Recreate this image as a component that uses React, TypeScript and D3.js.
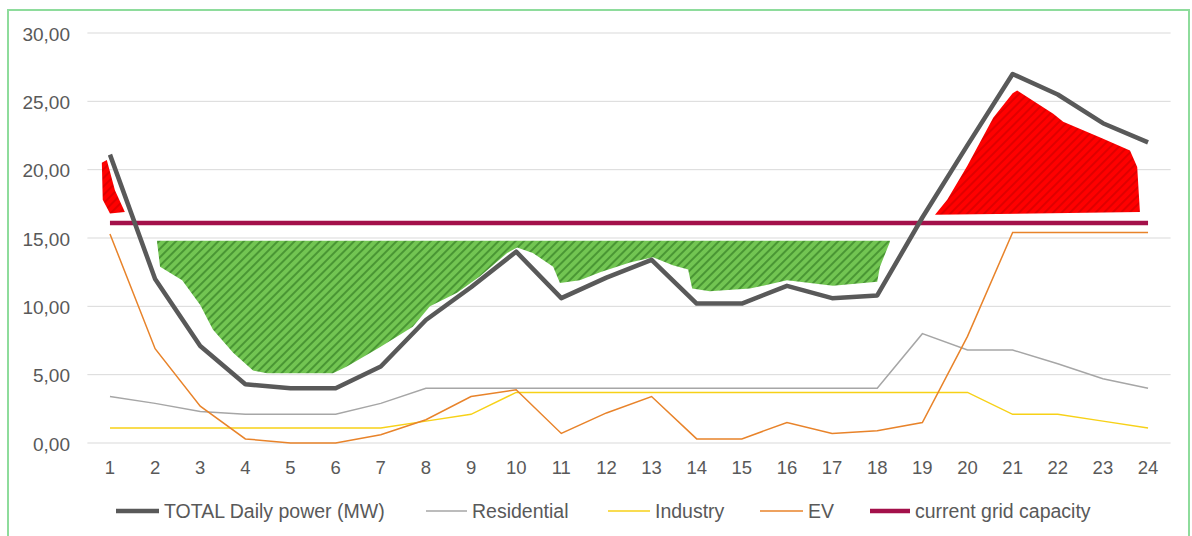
import React from 'react';
import { scaleLinear, line, range } from 'd3';

// hours of the day
const hours = range(1, 25);

// series values (MW)
const total = [21.1, 12.0, 7.1, 4.3, 4.0, 4.0, 5.6, 9.0, 11.4, 14.0, 10.6, 12.1, 13.4, 10.2, 10.2, 11.5, 10.6, 10.8, 16.5, 21.8, 27.0, 25.5, 23.4, 22.0];
const residential = [3.4, 2.9, 2.3, 2.1, 2.1, 2.1, 2.9, 4.0, 4.0, 4.0, 4.0, 4.0, 4.0, 4.0, 4.0, 4.0, 4.0, 4.0, 8.0, 6.8, 6.8, 5.8, 4.7, 4.0];
const industry = [1.1, 1.1, 1.1, 1.1, 1.1, 1.1, 1.1, 1.6, 2.1, 3.7, 3.7, 3.7, 3.7, 3.7, 3.7, 3.7, 3.7, 3.7, 3.7, 3.7, 2.1, 2.1, 1.6, 1.1];
const ev = [15.3, 6.9, 2.7, 0.3, 0.0, 0.0, 0.6, 1.7, 3.4, 3.9, 0.7, 2.2, 3.4, 0.3, 0.3, 1.5, 0.7, 0.9, 1.5, 7.8, 15.4, 15.4, 15.4, 15.4];
const gridCapacity = 16.1;

const yTicks = [0, 5, 10, 15, 20, 25, 30];

// hand drawn hatched zones: [hour, MW]
const spareZone: [number, number][] = [
  [2.04, 14.8], [2.11, 12.9], [2.6, 11.9], [3.0, 10.1], [3.28, 8.3], [3.73, 6.6], [4.17, 5.3], [4.48, 5.1],
  [5.94, 5.1], [6.25, 5.6], [6.98, 7.0], [7.71, 8.5], [8.09, 10.0], [8.69, 11.0], [9.2, 12.2], [9.8, 13.9],
  [10.02, 14.3], [10.37, 13.9], [10.82, 12.9], [10.97, 11.7], [11.41, 11.9], [11.86, 12.5], [12.52, 13.2],
  [13.03, 13.6], [13.47, 13.0], [13.81, 12.7], [13.9, 11.3], [14.29, 11.1], [15.18, 11.3], [16.0, 11.9],
  [17.02, 11.5], [18.0, 11.8], [18.06, 12.9], [18.28, 14.7], [18.28, 14.8]
];
const overloadMorning: [number, number][] = [
  [0.82, 20.5], [0.93, 20.7], [1.11, 18.5], [1.33, 16.9], [1.0, 16.8], [0.84, 17.8]
];
const overloadEvening: [number, number][] = [
  [19.28, 16.7], [23.82, 16.9], [23.76, 20.2], [23.6, 21.4], [22.98, 22.3], [22.12, 23.5], [21.9, 24.1],
  [21.1, 25.8], [21.0, 25.6], [20.57, 23.8], [20.0, 20.3], [19.55, 17.8]
];

const legendItems = [
  { label: 'TOTAL Daily power (MW)', color: '#595959', width: 4.5 },
  { label: 'Residential', color: '#a6a6a6', width: 1.5 },
  { label: 'Industry', color: '#f7d117', width: 1.5 },
  { label: 'EV', color: '#e8832a', width: 1.5 },
  { label: 'current grid capacity', color: '#a3104a', width: 4.5 },
];

const W = 1192;
const H = 536;
const FONT = '"Liberation Sans", Arial, sans-serif';

export default function App() {
  const x = scaleLinear().domain([0.5, 24.5]).range([87.4, 1170.6]);
  const y = scaleLinear().domain([0, 30]).range([443, 33]);

  const seriesLine = line<number>()
    .x((d, i) => x(hours[i]))
    .y(d => y(d));

  const zonePath = (pts: [number, number][]) =>
    line<[number, number]>()
      .x(d => x(d[0]))
      .y(d => y(d[1]))(pts) + 'Z';

  // legend layout
  const legendX = [116, 426, 608, 760, 870];
  const legendLen = [43, 41, 42, 43, 40];

  return (
    <svg width={W} height={H} style={{ position: 'absolute', left: 0, top: 0 }} fontFamily={FONT}>
      <defs>
        <pattern id="greenHatch" width="6" height="6" patternUnits="userSpaceOnUse" patternTransform="rotate(45)">
          <rect width="6" height="6" fill="#72c552" />
          <line x1="1" y1="0" x2="1" y2="6" stroke="#3f8a2c" strokeWidth="1.6" />
        </pattern>
        <pattern id="redHatch" width="6" height="6" patternUnits="userSpaceOnUse" patternTransform="rotate(45)">
          <rect width="6" height="6" fill="#ff0000" />
          <line x1="1" y1="0" x2="1" y2="6" stroke="#d80000" strokeWidth="1.6" />
        </pattern>
      </defs>

      <rect x={0} y={0} width={W} height={H} fill="#fff" />
      <rect x={8} y={10} width={1181} height={560} fill="none" stroke="#8edc9c" strokeWidth={2} />

      {/* grid + y labels */}
      {yTicks.map(t => (
        <g key={t}>
          <line x1={x(0.5)} x2={x(24.5)} y1={y(t)} y2={y(t)} stroke="#d9d9d9" strokeWidth={1} />
          <text x={70} y={y(t) + 7.5} textAnchor="end" fontSize={19} fill="#595959">
            {t.toFixed(2).replace('.', ',')}
          </text>
        </g>
      ))}

      {/* x labels */}
      {hours.map(h => (
        <text key={h} x={x(h)} y={474} textAnchor="middle" fontSize={18.5} fill="#595959">{h}</text>
      ))}

      {/* hatched zones */}
      <path d={zonePath(spareZone)} fill="url(#greenHatch)" />
      <path d={zonePath(overloadMorning)} fill="url(#redHatch)" />
      <path d={zonePath(overloadEvening)} fill="url(#redHatch)" />

      {/* series */}
      <path d={seriesLine(residential) || ''} fill="none" stroke="#a6a6a6" strokeWidth={1.5} />
      <path d={seriesLine(industry) || ''} fill="none" stroke="#f7d117" strokeWidth={1.5} />
      <path d={seriesLine(ev) || ''} fill="none" stroke="#e8832a" strokeWidth={1.5} />
      <line x1={x(1)} x2={x(24)} y1={y(gridCapacity)} y2={y(gridCapacity)} stroke="#a3104a" strokeWidth={4.5} />
      <path d={seriesLine(total) || ''} fill="none" stroke="#595959" strokeWidth={4.5} strokeLinejoin="round" />

      {/* legend */}
      {legendItems.map((it, i) => (
        <g key={it.label} transform={`translate(${legendX[i]},511)`}>
          <line x1={0} x2={legendLen[i]} y1={0} y2={0} stroke={it.color} strokeWidth={it.width} />
          <text x={legendLen[i] + 5} y={7} fontSize={19.5} fill="#595959">{it.label}</text>
        </g>
      ))}
    </svg>
  );
}
